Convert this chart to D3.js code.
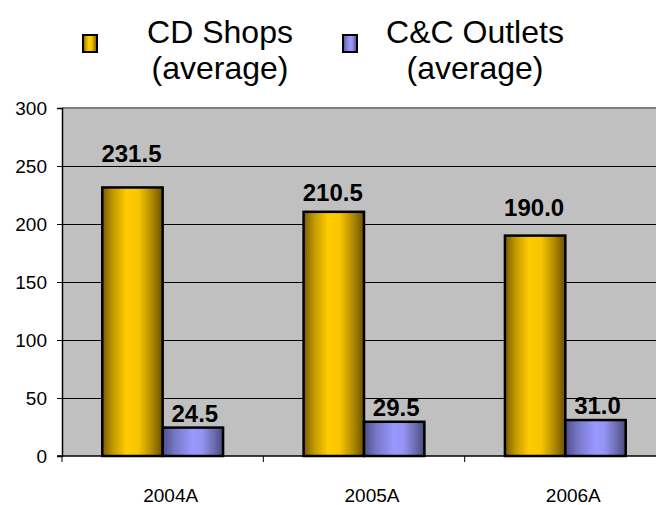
<!DOCTYPE html>
<html>
<head>
<meta charset="utf-8">
<script src="https://cdn.jsdelivr.net/npm/d3@7"></script>
<style>
  html, body { margin: 0; padding: 0; background: #fff; }
  svg { display: block; font-family: Arial, "Liberation Sans", sans-serif; }
</style>
</head>
<body>
<svg id="chart" width="656" height="505"></svg>
<script>
// Chart data
const categories = ["2004A", "2005A", "2006A"];
const seriesNames = ["CD Shops\n(average)", "C&C Outlets\n(average)"];
const cdShops = [231.5, 210.5, 190.0];
const ccOutlets = [24.5, 29.5, 31.0];
const yTicks = [0, 50, 100, 150, 200, 250, 300];

// Vertical gap between each value label and its bar top (px)
const cdLabelGap = [25, 11, 20];
const ccLabelGap = [6, 6, 6];

const svg = d3.select("#chart");
const plot = { left: 62, right: 666, top: 108, bottom: 456 };

const x = d3.scaleBand().domain(categories)
  .range([plot.left, plot.right]).paddingInner(0.4).paddingOuter(0.2);
const sub = d3.scaleBand().domain([0, 1]).range([0, x.bandwidth()]);
const y = d3.scaleLinear().domain([0, 300]).range([plot.bottom, plot.top]);

// Cylinder-like horizontal gradients
const defs = svg.append("defs");
function grad(id, stops) {
  const g = defs.append("linearGradient").attr("id", id)
    .attr("x1", "0%").attr("x2", "100%").attr("y1", "0%").attr("y2", "0%");
  stops.forEach(([o, c]) => g.append("stop").attr("offset", o).attr("stop-color", c));
}
grad("gGold", [["0%", "#7a5c00"], ["18%", "#c29a00"], ["40%", "#ffcc00"], ["60%", "#f7c600"], ["82%", "#b08a00"], ["100%", "#6a5000"]]);
grad("gBlue", [["0%", "#4e4e86"], ["20%", "#7676c6"], ["50%", "#9a9aff"], ["65%", "#9494f4"], ["85%", "#6c6cb0"], ["100%", "#4a4a7c"]]);
const fills = ["url(#gGold)", "url(#gBlue)"];

// Plot area
svg.append("rect")
  .attr("x", plot.left).attr("y", plot.top)
  .attr("width", plot.right - plot.left).attr("height", plot.bottom - plot.top)
  .attr("fill", "#c0c0c0");

// Gridlines
svg.append("g").selectAll("line")
  .data(yTicks.filter(d => d > 0 && d < 300))
  .join("line")
  .attr("x1", plot.left).attr("x2", plot.right)
  .attr("y1", d => Math.round(y(d)) + 0.5).attr("y2", d => Math.round(y(d)) + 0.5)
  .attr("stroke", "#000").attr("stroke-width", 1);

// Plot border (top)
svg.append("line")
  .attr("x1", plot.left).attr("x2", plot.right)
  .attr("y1", plot.top).attr("y2", plot.top)
  .attr("stroke", "#808080").attr("stroke-width", 2);

// Bars
const series = [cdShops, ccOutlets];
const gaps = [cdLabelGap, ccLabelGap];
series.forEach((vals, si) => {
  svg.append("g").selectAll("rect")
    .data(categories.map((c, i) => ({ c, v: vals[i] })))
    .join("rect")
    .attr("x", d => x(d.c) + sub(si))
    .attr("y", d => y(d.v))
    .attr("width", sub.bandwidth())
    .attr("height", d => y(0) - y(d.v))
    .attr("fill", fills[si])
    .attr("stroke", "#000").attr("stroke-width", 2.5);
});

// Value labels
series.forEach((vals, si) => {
  svg.append("g").selectAll("text")
    .data(categories.map((c, i) => ({ c, v: vals[i], gap: gaps[si][i] })))
    .join("text")
    .attr("x", d => x(d.c) + sub(si) + sub.bandwidth() / 2 + (si === 1 ? 2 : -1))
    .attr("y", d => y(d.v) - d.gap)
    .attr("text-anchor", "middle")
    .attr("font-size", 24).attr("font-weight", "bold").attr("fill", "#000")
    .text(d => d.v.toFixed(1));
});

// Y axis
const yAxis = d3.axisLeft(y).tickValues(yTicks).tickSize(5).tickPadding(10);
const gy = svg.append("g").attr("transform", `translate(${plot.left},0)`).call(yAxis);
gy.select(".domain").attr("stroke", "#000").attr("stroke-width", 1.5);
gy.selectAll(".tick line").attr("stroke", "#000");
gy.selectAll(".tick text").attr("font-size", 19).attr("fill", "#000")
  .attr("font-family", "Arial, 'Liberation Sans', sans-serif");

// X axis: baseline, boundary ticks, category labels
const gx = svg.append("g");
gx.append("line").attr("x1", plot.left - 5).attr("x2", plot.right)
  .attr("y1", plot.bottom).attr("y2", plot.bottom)
  .attr("stroke", "#000").attr("stroke-width", 1.5);
const bounds = categories.map(c => x(c) - x.step() * x.paddingInner() / 2)
  .map((b, i) => i === 0 ? plot.left : b);
gx.selectAll("line.tk").data(bounds).join("line").attr("class", "tk")
  .attr("x1", d => d).attr("x2", d => d)
  .attr("y1", plot.bottom).attr("y2", plot.bottom + 6)
  .attr("stroke", "#000");
gx.selectAll("text").data(categories).join("text")
  .attr("x", d => x(d) + x.bandwidth() / 2 + 8)
  .attr("y", 502)
  .attr("text-anchor", "middle")
  .attr("font-size", 19).attr("fill", "#000")
  .text(d => d);

// Legend
const legendX = [220, 475];
const markerX = [90, 350];
seriesNames.forEach((name, i) => {
  const g = svg.append("g");
  g.append("rect")
    .attr("x", markerX[i] - 7).attr("y", 35)
    .attr("width", 14).attr("height", 17)
    .attr("fill", fills[i]).attr("stroke", "#000").attr("stroke-width", 2);
  const lines = name.split("\n");
  g.selectAll("text").data(lines).join("text")
    .attr("x", legendX[i])
    .attr("y", (d, k) => 43 + k * 36)
    .attr("text-anchor", "middle")
    .attr("font-size", 32).attr("fill", "#000")
    .text(d => d);
});
</script>
</body>
</html>
